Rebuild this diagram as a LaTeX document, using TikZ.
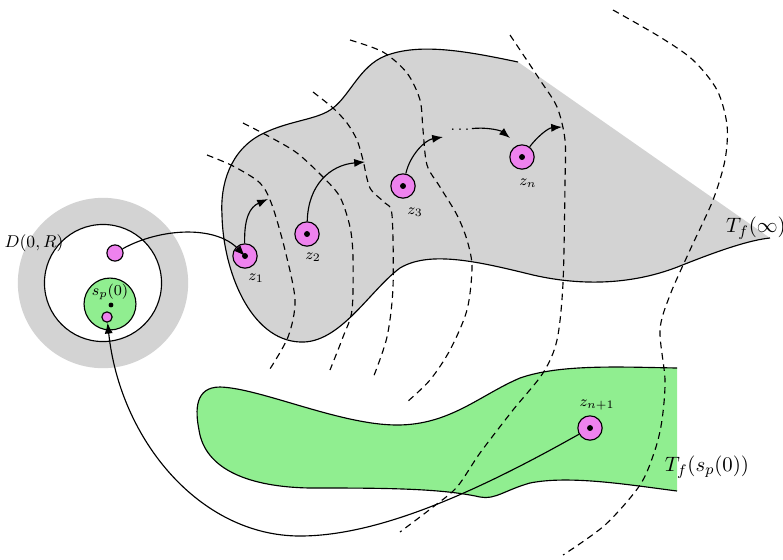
\documentclass[tikz,border=0pt]{standalone}
\usepackage{amssymb}
\usetikzlibrary{arrows.meta, positioning}
\tikzset{> = { Latex[length = 2mm] }}
\definecolor{greyfill}{RGB}{211,211,211}
\definecolor{greenfill}{RGB}{144,238,144}
\definecolor{pinkfill}{RGB}{238,130,238}
\tikzset{
	zpt/.style = {draw, circle, fill = pinkfill, minimum size = 0.45cm, inner sep = 0pt,
		path picture = {\fill [black] (path picture bounding box.center) circle (0.055cm);}},
	fibre/.style = {dash pattern = on 3.5pt off 2.5pt},
	zlabel/.style = {font = \footnotesize, inner sep = 0pt},
	tlabel/.style = {font = \fontsize{11}{13}\selectfont, inner sep = 0pt}
}

\begin{document}
\begin{tikzpicture}[x = 0.0185cm, y = -0.0185cm, line width = 0.6pt]
		\useasboundingbox (0, 0) rectangle (783, 559);

		% the disc D(0,R)
		\node [circle, fill = greyfill, minimum size = 3.15cm] (ring) at (103, 283) {};
		\node [draw, circle, fill = white, minimum size = 2.165cm] (disc) at (103, 283) {};
		\node [draw, circle, fill = greenfill, minimum size = 0.96cm] (sp) at (110, 304) {};
		\fill (111, 305) circle (0.045cm);
		\node [zlabel] (splabel) at (110, 292) {\(s_p(0)\)};
		\node [font = \small, inner sep = 0pt] (dlabel) at (34, 243) {\(D(0,R)\)};
		\node [draw, circle, fill = pinkfill, minimum size = 0.3cm, inner sep = 0pt] (pin) at (115, 253) {};
		\node [draw, circle, fill = pinkfill, minimum size = 0.19cm, inner sep = 0pt] (spin) at (107, 317) {};

		% T_f(infinity)
		\fill [greyfill] (518, 62) .. controls (470, 52) and (420, 42) .. (385, 56)
			.. controls (360, 66) and (350, 95) .. (333, 108)
			.. controls (318, 120) and (290, 120) .. (262, 134)
			.. controls (230, 150) and (220, 185) .. (222, 215)
			.. controls (223, 270) and (250, 340) .. (300, 342)
			.. controls (340, 344) and (370, 290) .. (400, 268)
			.. controls (430, 250) and (480, 262) .. (533, 275)
			.. controls (590, 288) and (640, 282) .. (680, 266)
			.. controls (720, 250) and (750, 240) .. (770, 238) -- cycle;
		\draw (518, 62) .. controls (470, 52) and (420, 42) .. (385, 56)
			.. controls (360, 66) and (350, 95) .. (333, 108)
			.. controls (318, 120) and (290, 120) .. (262, 134)
			.. controls (230, 150) and (220, 185) .. (222, 215)
			.. controls (223, 270) and (250, 340) .. (300, 342)
			.. controls (340, 344) and (370, 290) .. (400, 268)
			.. controls (430, 250) and (480, 262) .. (533, 275)
			.. controls (590, 288) and (640, 282) .. (680, 266)
			.. controls (720, 250) and (750, 240) .. (770, 238);
		\node [tlabel] (tinf) at (756, 228) {\(T_f(\infty)\)};

		% T_f(s_p(0))
		\fill [greenfill] (677, 368) .. controls (620, 367) and (560, 364) .. (520, 378)
			.. controls (480, 395) and (450, 425) .. (397, 425)
			.. controls (340, 425) and (260, 388) .. (220, 387)
			.. controls (195, 387) and (195, 410) .. (199, 430)
			.. controls (205, 470) and (250, 487) .. (310, 488)
			.. controls (380, 488) and (440, 488) .. (480, 497)
			.. controls (495, 500) and (505, 490) .. (530, 483)
			.. controls (570, 475) and (630, 485) .. (677, 491) -- cycle;
		\draw (677, 368) .. controls (620, 367) and (560, 364) .. (520, 378)
			.. controls (480, 395) and (450, 425) .. (397, 425)
			.. controls (340, 425) and (260, 388) .. (220, 387)
			.. controls (195, 387) and (195, 410) .. (199, 430)
			.. controls (205, 470) and (250, 487) .. (310, 488)
			.. controls (380, 488) and (440, 488) .. (480, 497)
			.. controls (495, 500) and (505, 490) .. (530, 483)
			.. controls (570, 475) and (630, 485) .. (677, 491);
		\node [tlabel] (tsp) at (707, 467) {\(T_f(s_p(0))\)};

		% fibres
		\draw [fibre] plot [smooth] coordinates {(207, 155) (233, 166) (260, 183) (272, 205) (285, 250) (295, 300) (288, 337) (268, 372)};
		\draw [fibre] plot [smooth] coordinates {(243, 123) (270, 137) (297, 153) (323, 177) (340, 197) (350, 227) (353, 257) (352, 310) (343, 337) (330, 370)};
		\draw [fibre] plot [smooth] coordinates {(313, 92) (333, 108) (347, 123) (357, 140) (363, 160) (370, 188) (385, 203) (392, 215) (393, 287) (387, 337) (373, 378)};
		\draw [fibre] plot [smooth] coordinates {(350, 40) (383, 52) (407, 73) (420, 100) (423, 130) (427, 165) (440, 187) (457, 215) (467, 240) (472, 267) (467, 310) (450, 350) (430, 380) (407, 402)};
		\draw [fibre] plot [smooth] coordinates {(510, 35) (540, 80) (557, 107) (565, 140) (565, 183) (563, 283) (557, 340) (543, 373) (513, 410) (480, 453) (457, 487) (433, 507) (400, 532)};
		\draw [fibre] plot [smooth] coordinates {(613, 10) (660, 37) (693, 60) (717, 90) (727, 125) (725, 160) (713, 200) (690, 250) (670, 295) (660, 330) (665, 380) (662, 420) (655, 450) (640, 485) (605, 525) (563, 555)};

		% the points z_i
		\node [zpt] (z1) at (245, 256) {};
		\node [zpt] (z2) at (307, 234) {};
		\node [zpt] (z3) at (403, 186) {};
		\node [zpt] (zn) at (522, 157) {};
		\node [zpt] (zn1) at (590, 428) {};
		\node [zlabel] (l1) at (256, 278) {\(z_1\)};
		\node [zlabel] (l2) at (313, 257) {\(z_2\)};
		\node [zlabel] (l3) at (415, 212) {\(z_3\)};
		\node [zlabel] (ln) at (528, 183) {\(z_n\)};
		\node [zlabel] (ln1) at (597, 405) {\(z_{n+1}\)};
		\node [font = \footnotesize, inner sep = 1pt] (dots) at (460, 130) {\(\cdots\)};

		% orbit
		\coordinate (a1) at (268, 199);
		\coordinate (a2) at (365, 162);
		\coordinate (a3) at (443, 137);
		\coordinate (a4) at (510, 138);
		\coordinate (a5) at (562, 127);
		\coordinate (bend) at (300, 536);
		\draw [->] (pin) .. controls (160, 228) and (215, 225) .. (z1.center);
		\draw [->] (z1) .. controls (244, 218) and (250, 207) .. (a1);
		\draw [->] (z2) .. controls (308, 185) and (330, 165) .. (a2);
		\draw [->] (z3) .. controls (410, 155) and (425, 140) .. (a3);
		\draw [->] (dots) .. controls (485, 127) and (500, 130) .. (a4);
		\draw [->] (zn) .. controls (537, 137) and (548, 128) .. (a5);
		\draw [->] (zn1) .. controls (480, 490) and (380, 536) .. (bend) .. controls (200, 536) and (120, 440) .. (spin);
	\end{tikzpicture}
\end{document}
